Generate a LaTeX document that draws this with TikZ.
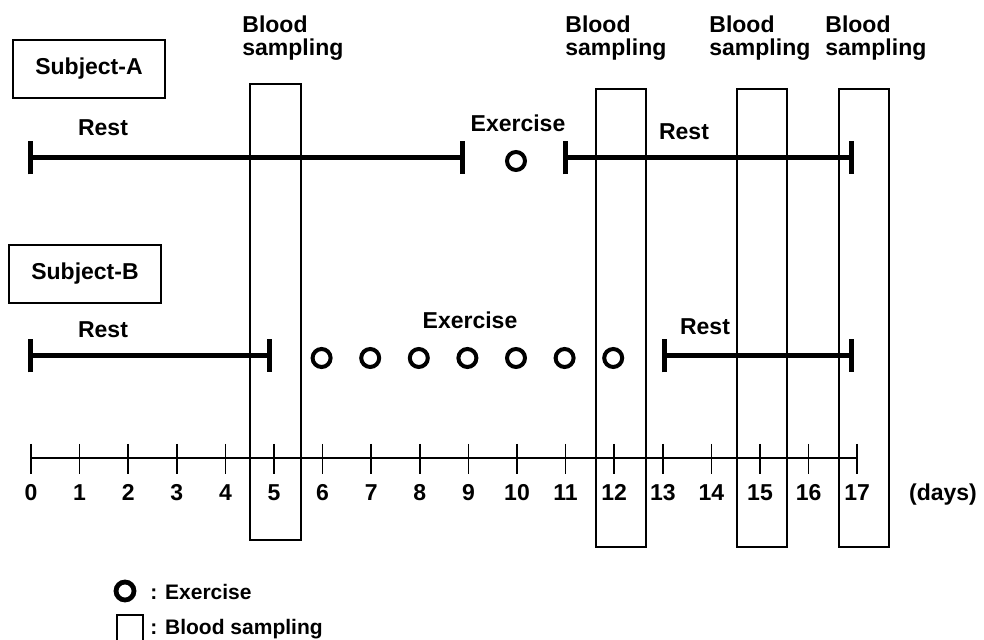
\documentclass[tikz,border=0pt]{standalone}
\usepackage{fontspec}
\setmainfont{Liberation Sans}
\usetikzlibrary{arrows.meta, positioning}

\begin{document}
\begin{tikzpicture}[
  x=0.5pt, y=-0.5pt,
  lbl/.style={font=\fontsize{11.5}{11.5}\selectfont\bfseries, inner sep=0pt},
  leg/.style={font=\fontsize{10.5}{12}\selectfont\bfseries, inner sep=0pt, anchor=west},
  subj/.style={draw, line width=0.7pt, minimum width=76pt, minimum height=29pt, inner sep=0pt,
    font=\fontsize{11.5}{12}\selectfont\bfseries},
  period/.style={line width=2.5pt, arrows={Bar[width=16.5pt]-Bar[width=16.5pt]}},
  exer/.style={circle, draw, line width=2pt, minimum size=9pt, inner sep=0pt},
  sampbox/.style={draw, line width=1pt},
  tick/.style={line width=0.8pt},
]
\useasboundingbox (0,0) rectangle (984,640);

% Blood sampling
\draw[sampbox] (250,84) rectangle (301,540);
\draw[sampbox] (596,89) rectangle (646,547);
\draw[sampbox] (737,89) rectangle (787,547);
\draw[sampbox] (839,89) rectangle (889,547);
\node[lbl, align=left, anchor=north west] (bs5)  at (242,15) {Blood\\sampling};
\node[lbl, align=left, anchor=north west] (bs12) at (565,15) {Blood\\sampling};
\node[lbl, align=left, anchor=north west] (bs15) at (709,15) {Blood\\sampling};
\node[lbl, align=left, anchor=north west] (bs17) at (825,15) {Blood\\sampling};

% Subject-A
\node[subj] (subjA) at (89,69) {Subject-A};
\coordinate (a0) at (28,158);
\coordinate (a9) at (465,158);
\coordinate (a11) at (563,158);
\coordinate (a17) at (854,158);
\draw[period] (a0) -- (a9);
\draw[period] (a11) -- (a17);
\node[exer] (ex10) at (516,161) {};
\node[lbl] (restA1) at (103,128) {Rest};
\node[lbl] (exA) at (518,123) {Exercise};
\node[lbl] (restA2) at (684,132) {Rest};

% Subject-B
\node[subj] (subjB) at (85,274) {Subject-B};
\coordinate (b0) at (28,356);
\coordinate (b5) at (272,356);
\coordinate (b13) at (662,356);
\coordinate (b17) at (854,356);
\draw[period] (b0) -- (b5);
\draw[period] (b13) -- (b17);
\foreach \d in {6,...,12}
  \node[exer] (exB\d) at ({30+48.6*\d},358) {};
\node[lbl] (restB1) at (103,330) {Rest};
\node[lbl] (exB) at (470,320) {Exercise};
\node[lbl] (restB2) at (705,327) {Rest};

% 日数軸
\coordinate (ax0) at (31,458);
\coordinate (ax17) at (857.2,458);
\draw[line width=1pt] (ax0) -- (ax17);
\foreach \d in {0,...,17} {
  \draw[tick] ({31+48.6*\d},444) -- ++(0,30);
  \node[lbl, anchor=base] (day\d) at ({31+48.6*\d},501) {\d};
}
\node[lbl, anchor=base] (days) at (943,501) {(days)};

% 凡例
\node[exer, line width=2.4pt, minimum size=9pt] (legex) at (125,591) {};
\node[leg] (legextxt) at (150,592) {: Exercise};
\draw[line width=1pt] (117,646) |- (143,615) -- (143,646);
\node[leg] (legbstxt) at (150,629) {: Blood sampling};

\end{tikzpicture}
\end{document}
